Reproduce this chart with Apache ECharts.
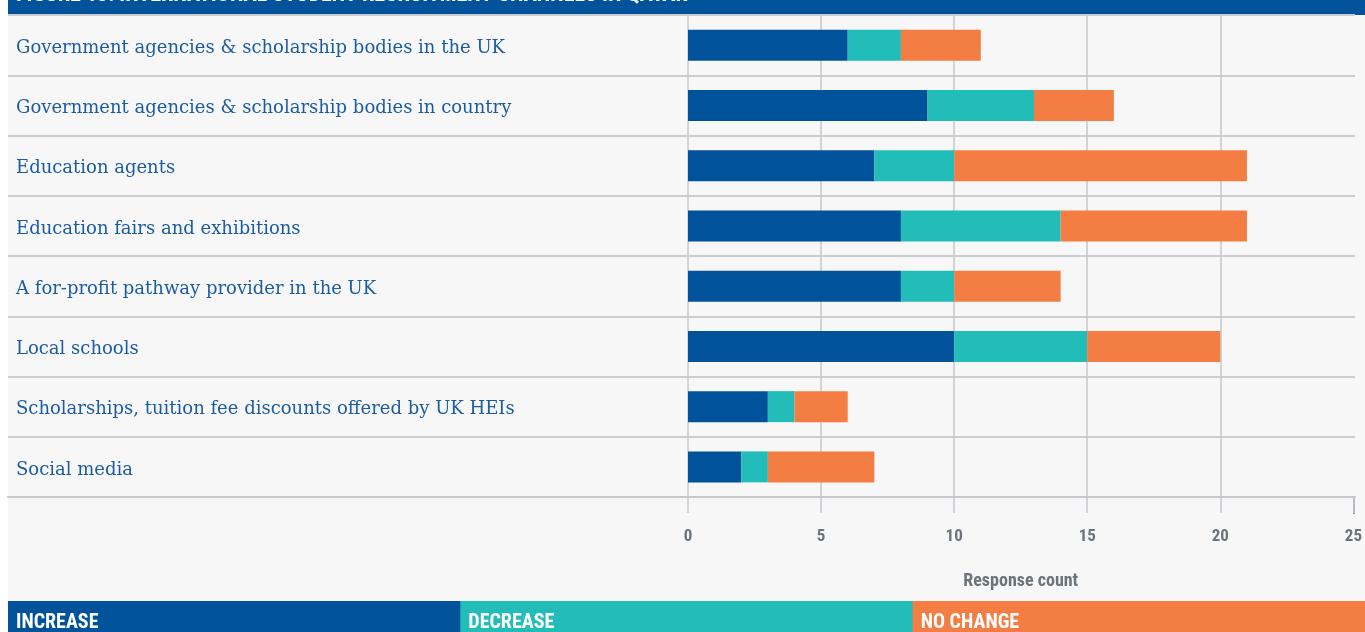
<!DOCTYPE html>
<html>
<head>
<meta charset="utf-8">
<script src="https://cdn.jsdelivr.net/npm/echarts@6/dist/echarts.min.js"></script>
<style>
  html, body { margin: 0; padding: 0; background: #ffffff; }
  #chart { width: 1365px; height: 632px; }
</style>
</head>
<body>
<div id="chart"></div>
<script>
const titleText = 'FIGURE 13: INTERNATIONAL STUDENT RECRUITMENT CHANNELS IN QATAR'
const categories = [
  'Government agencies & scholarship bodies in the UK',
  'Government agencies & scholarship bodies in country',
  'Education agents',
  'Education fairs and exhibitions',
  'A for-profit pathway provider in the UK',
  'Local schools',
  'Scholarships, tuition fee discounts offered by UK HEIs',
  'Social media'
]
const increase = [6, 9, 7, 8, 8, 10, 3, 2]
const decrease = [2, 4, 3, 6, 2, 5, 1, 1]
const noChange = [3, 3, 11, 7, 4, 5, 2, 4]
const seriesNames = ['INCREASE', 'DECREASE', 'NO CHANGE']
const colors = ['#00539b', '#23bdb9', '#f37d43']
const xTicks = [0, 5, 10, 15, 20, 25]

const condensed = '"Liberation Sans Narrow", "Roboto Condensed", Roboto, sans-serif'
const serif = '"DejaVu Serif", "Liberation Serif", serif'

const chart = echarts.init(document.getElementById('chart'))

// 图例色块（底部三段）
const legendBlocks = []
const blockW = (1365 - 8) / 3
seriesNames.forEach((name, i) => {
  legendBlocks.push({
    type: 'rect',
    shape: { x: 8 + i * blockW, y: 601, width: blockW + 1, height: 31 },
    style: { fill: colors[i] }
  })
  legendBlocks.push({
    type: 'text',
    x: 16 + i * blockW,
    y: 623,
    style: {
      text: name,
      fill: '#ffffff',
      font: 'bold 20px ' + condensed,
      textVerticalAlign: 'middle'
    }
  })
})

const option = {
  backgroundColor: '#f7f7f7',
  animation: false,
  graphic: [
    { type: 'rect', shape: { x: 0, y: 0, width: 8, height: 632 }, style: { fill: '#ffffff' } },
    { type: 'rect', shape: { x: 8, y: 0, width: 1357, height: 15 }, style: { fill: '#00539b' } },
    {
      type: 'text', x: 16, y: 6,
      style: {
        text: titleText, fill: '#ffffff',
        font: 'bold 22px ' + condensed,
        textVerticalAlign: 'bottom'
      }
    },
    // 25 刻度线颜色较深
    { type: 'line', shape: { x1: 1354, y1: 497, x2: 1354, y2: 514 }, style: { stroke: '#6b737c', lineWidth: 1.5 } },
    ...legendBlocks
  ],
  grid: [
    // 标签与分隔线
    { left: 8, right: 10, top: 15, bottom: 135 },
    // 条形区域
    { left: 688, right: 11, top: 15, bottom: 135 }
  ],
  xAxis: [
    {
      gridIndex: 0, type: 'value', min: 0, max: 1,
      axisLine: { show: true, lineStyle: { color: '#c5c8cc', width: 2 } },
      axisTick: { show: false }, axisLabel: { show: false }, splitLine: { show: false }
    },
    {
      gridIndex: 1, type: 'value', min: 0, max: 25, interval: 5,
      name: 'Response count',
      nameLocation: 'middle',
      nameGap: 75,
      nameTextStyle: { color: '#6b737c', fontSize: 18, fontWeight: 'bold', fontFamily: condensed },
      axisLine: { show: false },
      axisTick: { show: true, length: 16, lineStyle: { color: '#c5c8cc', width: 1.5 } },
      axisLabel: {
        margin: 31, color: '#6b737c', fontSize: 17, fontWeight: 'bold', fontFamily: condensed,
        formatter: (v) => xTicks.includes(v) ? String(v) : ''
      },
      splitLine: { show: true, showMaxLine: false, lineStyle: { color: '#c5c8cc', width: 1.5 } }
    }
  ],
  yAxis: [
    {
      gridIndex: 0, type: 'category', data: categories, inverse: true,
      axisLine: { show: false }, axisTick: { show: false },
      axisLabel: {
        inside: true, margin: 8, color: '#1b5c9f', fontSize: 18, fontFamily: serif,
        lineHeight: 26, verticalAlign: 'top', padding: [-10, 0, 0, 0]
      },
      splitLine: { show: true, lineStyle: { color: '#cbcdd0', width: 2 } }
    },
    {
      gridIndex: 1, type: 'category', data: categories, inverse: true,
      axisLine: { show: false }, axisTick: { show: false }, axisLabel: { show: false },
      splitLine: { show: false }
    }
  ],
  series: [increase, decrease, noChange].map((vals, i) => ({
    name: seriesNames[i],
    type: 'bar',
    stack: 'total',
    xAxisIndex: 1,
    yAxisIndex: 1,
    barWidth: 31,
    data: vals,
    itemStyle: { color: colors[i] }
  }))
}

chart.setOption(option)
</script>
</body>
</html>
